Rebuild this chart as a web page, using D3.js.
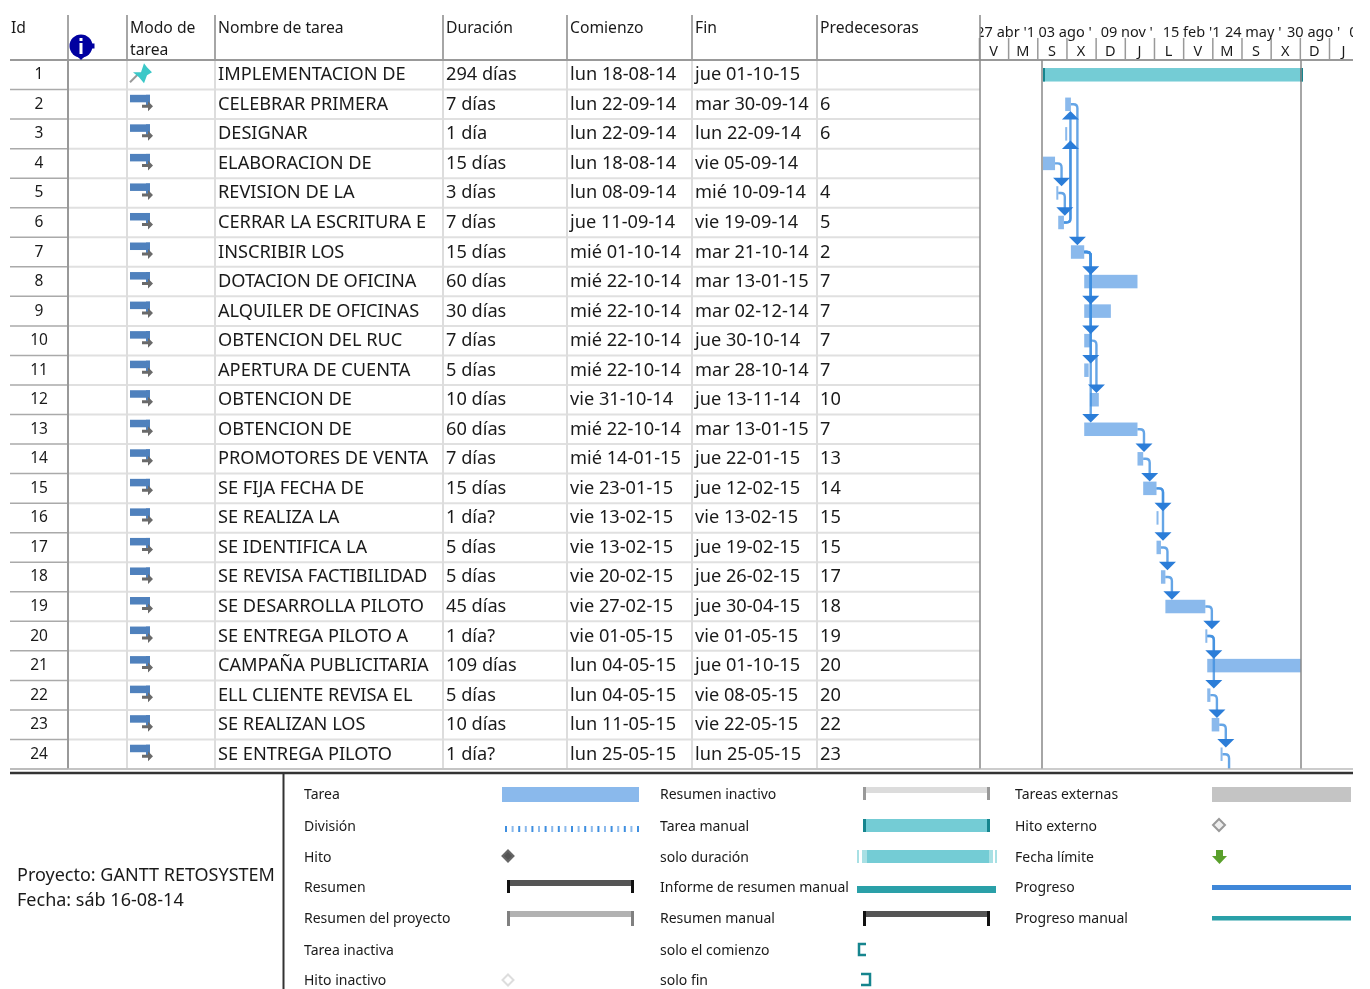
<!DOCTYPE html>
<meta charset="utf-8">
<style>
    html, body { margin: 0; background: #fff; }
    svg { display: block; filter: blur(0.35px); }
    text { font-family: "Noto Sans", sans-serif; fill: #1a1a1a; }
    .cell { font-size: 18.2px; }
    .head { font-size: 15.7px; }
    .legend { font-size: 14px; }
    .time { font-size: 14.5px; }
    .axis path { display: none; }
    .axis line { stroke: #999; stroke-width: 1.5; }
</style>

<body>
    <script src="https://d3js.org/d3.v7.min.js"></script>
    <script>
        var names = ["IMPLEMENTACION DE", "CELEBRAR PRIMERA", "DESIGNAR", "ELABORACION DE", "REVISION DE LA",
            "CERRAR LA ESCRITURA E", "INSCRIBIR LOS", "DOTACION DE OFICINA", "ALQUILER DE OFICINAS", "OBTENCION DEL RUC",
            "APERTURA DE CUENTA", "OBTENCION DE", "OBTENCION DE", "PROMOTORES DE VENTA", "SE FIJA FECHA DE",
            "SE REALIZA LA", "SE IDENTIFICA LA", "SE REVISA FACTIBILIDAD", "SE DESARROLLA PILOTO", "SE ENTREGA PILOTO A",
            "CAMPAÑA PUBLICITARIA", "ELL CLIENTE REVISA EL", "SE REALIZAN LOS", "SE ENTREGA PILOTO"];
        var durations = ["294 días", "7 días", "1 día", "15 días", "3 días", "7 días", "15 días", "60 días", "30 días", "7 días",
            "5 días", "10 días", "60 días", "7 días", "15 días", "1 día?", "5 días", "5 días", "45 días", "1 día?",
            "109 días", "5 días", "10 días", "1 día?"];
        var starts = ["lun 18-08-14", "lun 22-09-14", "lun 22-09-14", "lun 18-08-14", "lun 08-09-14", "jue 11-09-14",
            "mié 01-10-14", "mié 22-10-14", "mié 22-10-14", "mié 22-10-14", "mié 22-10-14", "vie 31-10-14", "mié 22-10-14",
            "mié 14-01-15", "vie 23-01-15", "vie 13-02-15", "vie 13-02-15", "vie 20-02-15", "vie 27-02-15", "vie 01-05-15",
            "lun 04-05-15", "lun 04-05-15", "lun 11-05-15", "lun 25-05-15"];
        var ends = ["jue 01-10-15", "mar 30-09-14", "lun 22-09-14", "vie 05-09-14", "mié 10-09-14", "vie 19-09-14",
            "mar 21-10-14", "mar 13-01-15", "mar 02-12-14", "jue 30-10-14", "mar 28-10-14", "jue 13-11-14", "mar 13-01-15",
            "jue 22-01-15", "jue 12-02-15", "vie 13-02-15", "jue 19-02-15", "jue 26-02-15", "jue 30-04-15", "vie 01-05-15",
            "jue 01-10-15", "vie 08-05-15", "vie 22-05-15", "lun 25-05-15"];
        var preds = ["", 6, 6, "", 4, 5, 2, 7, 7, 7, 7, 10, 7, 13, 14, 15, 15, 17, 18, 19, 20, 20, 22, 23];

        var majorDates = ["27-04-14", "03-08-14", "09-11-14", "15-02-15", "24-05-15", "30-08-15", "06-12-15"];
        // labels are cut short by their cells in the picture
        var majorLabels = ["27 abr '1", "03 ago '", "09 nov '", "15 feb '1", "24 may '", "30 ago '", "0"];
        var minorDates = ["09-05-14", "24-06-14", "09-08-14", "24-09-14", "09-11-14", "25-12-14", "09-02-15", "27-03-15",
            "12-05-15", "27-06-15", "12-08-15", "27-09-15", "12-11-15"];
        var minorLabels = ["V", "M", "S", "X", "D", "J", "L", "V", "M", "S", "X", "D", "J"];
        var projectStart = "18-08-14", projectEnd = "01-10-15";

        var legendCol1 = ["Tarea", "División", "Hito", "Resumen", "Resumen del proyecto", "Tarea inactiva", "Hito inactivo"];
        var legendCol2 = ["Resumen inactivo", "Tarea manual", "solo duración", "Informe de resumen manual", "Resumen manual", "solo el comienzo", "solo fin"];
        var legendCol3 = ["Tareas externas", "Hito externo", "Fecha límite", "Progreso", "Progreso manual"];

        var width = 1370, height = 989;
        var headBottom = 60, tableBottom = 769, chartLeft = 980, chartRight = 1353;
        var columns = [68, 127, 215, 443, 567, 692, 817];

        var parse = d3.utcParse("%d-%m-%y");
        function day(s) { return parse(s.slice(-8)); }
        function dayAfter(s) { return d3.utcDay.offset(day(s), 1); }

        var svg = d3.select("body").append("svg")
            .attr("width", width)
            .attr("height", height);

        var x = d3.scaleUtc()
            .domain([day(projectStart), dayAfter(projectEnd)])
            .range([1043, 1303]);
        var y = d3.scaleBand()
            .domain(d3.range(1, 25))
            .range([headBottom, tableBottom]);
        var rowMid = function (id) { return y(id) + y.bandwidth() / 2; };

        var defs = svg.append("defs");
        defs.append("clipPath").attr("id", "chartClip").append("rect")
            .attr("x", chartLeft).attr("y", headBottom).attr("width", chartRight - chartLeft).attr("height", tableBottom - headBottom);
        defs.append("clipPath").attr("id", "timeClip").append("rect")
            .attr("x", chartLeft).attr("y", 10).attr("width", chartRight - chartLeft).attr("height", 50);

        // table grid
        var ids = y.domain();
        svg.append("g").selectAll("line").data(ids).enter().append("line")
            .attr("x1", 68).attr("x2", chartLeft)
            .attr("y1", function (d) { return y(d) + y.bandwidth(); })
            .attr("y2", function (d) { return y(d) + y.bandwidth(); })
            .attr("stroke", "#e0e0e0").attr("stroke-width", 2);
        svg.append("g").selectAll("line").data(ids).enter().append("line")
            .attr("x1", 10).attr("x2", 68)
            .attr("y1", function (d) { return y(d) + y.bandwidth(); })
            .attr("y2", function (d) { return y(d) + y.bandwidth(); })
            .attr("stroke", "#aaa").attr("stroke-width", 1.5);
        svg.append("g").selectAll("line").data(columns).enter().append("line")
            .attr("x1", function (d) { return d; }).attr("x2", function (d) { return d; })
            .attr("y1", headBottom).attr("y2", tableBottom)
            .attr("stroke", function (d) { return d == 68 ? "#999" : "#ddd"; }).attr("stroke-width", 2);
        svg.append("g").selectAll("line").data(columns).enter().append("line")
            .attr("x1", function (d) { return d; }).attr("x2", function (d) { return d; })
            .attr("y1", 15).attr("y2", headBottom)
            .attr("stroke", "#888").attr("stroke-width", 1.5);

        // time header
        var majorAxis = d3.axisTop(x).tickValues(majorDates.map(parse)).tickSize(20).tickFormat("");
        var minorAxis = d3.axisTop(x).tickValues(minorDates.map(parse)).tickSize(22).tickFormat("");
        var timeHead = svg.append("g");
        timeHead.append("g").attr("class", "axis").attr("clip-path", "url(#timeClip)").attr("transform", "translate(0,38)").call(majorAxis);
        timeHead.append("g").attr("class", "axis").attr("transform", "translate(0,60)").call(minorAxis);

        timeHead.append("g").attr("clip-path", "url(#timeClip)").selectAll("text").data(majorLabels).enter().append("text")
            .attr("class", "time")
            .attr("x", function (d, i) { return x(parse(majorDates[i])) + 5; })
            .attr("y", 37)
            .text(function (d) { return d; });
        timeHead.selectAll("text.minor").data(minorLabels).enter().append("text")
            .attr("class", "time minor")
            .attr("text-anchor", "middle")
            .attr("x", function (d, i) { return x(d3.utcDay.offset(parse(minorDates[i]), 23)); })
            .attr("y", 56)
            .text(function (d) { return d; });

        // header lines
        svg.append("line").attr("x1", 10).attr("x2", chartRight).attr("y1", headBottom).attr("y2", headBottom)
            .attr("stroke", "#999").attr("stroke-width", 2);
        svg.append("line").attr("x1", chartLeft).attr("x2", chartLeft).attr("y1", 15).attr("y2", tableBottom)
            .attr("stroke", "#888").attr("stroke-width", 1.5);

        var headers = [["Id", 11, 33], ["Modo de", 130, 33], ["tarea", 130, 55], ["Nombre de tarea", 218, 33],
            ["Duración", 446, 33], ["Comienzo", 570, 33], ["Fin", 695, 33], ["Predecesoras", 820, 33]];
        svg.append("g").selectAll("text").data(headers).enter().append("text")
            .attr("class", "head")
            .attr("x", function (d) { return d[1]; })
            .attr("y", function (d) { return d[2]; })
            .text(function (d) { return d[0]; });

        // info icon
        var info = svg.append("g").attr("transform", "translate(81,46)");
        info.append("circle").attr("r", 11.5).attr("fill", "#0000a0");
        info.append("rect").attr("x", 11).attr("y", -2.5).attr("width", 2.5).attr("height", 5).attr("fill", "#0000a0");
        info.append("path").attr("d", "M-3,11L3,11L0,14Z").attr("fill", "#0000a0");
        info.append("rect").attr("x", -1.5).attr("y", -3).attr("width", 3).attr("height", 11).attr("fill", "#fff");
        info.append("rect").attr("x", -1.5).attr("y", -8).attr("width", 3).attr("height", 3).attr("fill", "#fff");

        // table cells
        var rows = svg.append("g").selectAll("g").data(ids).enter().append("g")
            .attr("transform", function (d) { return "translate(0," + (rowMid(d) + 5.5) + ")"; });
        rows.append("text").attr("class", "cell").attr("x", 39).attr("text-anchor", "middle").style("font-size", "15.5px")
            .attr("y", -1)
            .text(function (d) { return d; });
        rows.append("text").attr("class", "cell").attr("x", 218).text(function (d) { return names[d - 1]; });
        rows.append("text").attr("class", "cell").attr("x", 446).text(function (d) { return durations[d - 1]; });
        rows.append("text").attr("class", "cell").attr("x", 570).text(function (d) { return starts[d - 1]; });
        rows.append("text").attr("class", "cell").attr("x", 695).text(function (d) { return ends[d - 1]; });
        rows.append("text").attr("class", "cell").attr("x", 820).text(function (d) { return preds[d - 1]; });

        // mode icons
        var icons = svg.append("g").selectAll("g").data(ids).enter().append("g")
            .attr("transform", function (d) { return "translate(130," + (rowMid(d) - 9.5) + ")"; });
        icons.filter(function (d) { return d > 1; }).each(function () {
            var g = d3.select(this);
            g.append("rect").attr("x", 0).attr("y", 0).attr("width", 20).attr("height", 7.5).attr("fill", "#4f81bd");
            g.append("rect").attr("x", 16).attr("y", 0).attr("width", 4).attr("height", 10.5).attr("fill", "#4f81bd");
            g.append("path").attr("d", "M12,10L18,10L18,6.5L23,11.5L18,16.5L18,13L12,13Z").attr("fill", "#6a6a6a");
        });
        icons.filter(function (d) { return d == 1; }).each(function () {
            var g = d3.select(this);
            g.append("path").attr("d", "M0,17L8,9").attr("stroke", "#999").attr("stroke-width", 2);
            g.append("path").attr("d", "M3,7L11,7L14,-2L17,2L22,7L17,10L14,18L9,12Z").attr("fill", "#3cc8c8");
        });

        // bars
        var barH = 13.5;
        var chart = svg.append("g").attr("clip-path", "url(#chartClip)");
        var limitX = x(dayAfter(projectEnd)) - 2;
        var taskIds = ids.slice(1);
        chart.append("g").selectAll("rect").data(taskIds).enter().append("rect")
            .attr("x", function (d) { return x(day(starts[d - 1])); })
            .attr("y", function (d) { return rowMid(d) - barH / 2; })
            .attr("width", function (d) { return Math.max(2, Math.min(limitX, x(dayAfter(ends[d - 1]))) - x(day(starts[d - 1]))); })
            .attr("height", barH)
            .attr("fill", "#8ab9ec");

        // project limits
        [x(day(projectStart)) - 1, limitX].forEach(function (lx) {
            svg.append("line").attr("x1", lx).attr("x2", lx).attr("y1", headBottom).attr("y2", tableBottom)
                .attr("stroke", "#888").attr("stroke-width", 1.5);
        });

        var x1 = x(day(starts[0])), x2 = x(dayAfter(ends[0]));
        chart.append("rect").attr("x", x1).attr("y", rowMid(1) - barH / 2).attr("width", x2 - x1).attr("height", barH).attr("fill", "#74ccd5");
        chart.append("rect").attr("x", x1).attr("y", rowMid(1) - barH / 2).attr("width", 2).attr("height", barH).attr("fill", "#16858e");
        chart.append("rect").attr("x", x2 - 3).attr("y", rowMid(1) - barH / 2).attr("width", 3).attr("height", barH).attr("fill", "#16858e");

        // links: out of the end of the predecessor, hook down or up to the successor
        var links = [];
        preds.forEach(function (p, i) { if (p !== "") links.push({ from: p, to: i + 1 }); });
        links.push({ from: 24, to: 25 }); // successor is below the visible rows

        function hookX(d) {
            return Math.max(x(dayAfter(ends[d.from - 1])), x(day(starts[d.from - 1])) + 2) + 6.5;
        }
        function linkPath(d) {
            var ex = hookX(d), sx = ex - 6.5, sy = rowMid(d.from);
            var dir = d.to > d.from ? 1 : -1;
            var toMid = d.to <= 24 ? rowMid(d.to) : rowMid(24) + y.bandwidth();
            var ey = toMid - dir * (barH / 2 + 7);
            var q = d3.path();
            q.moveTo(sx, sy);
            q.lineTo(ex - 4, sy);
            q.quadraticCurveTo(ex, sy, ex, sy + dir * 4);
            q.lineTo(ex, ey);
            return q.toString();
        }
        chart.append("g").selectAll("path").data(links).enter().append("path")
            .attr("d", linkPath)
            .attr("fill", "none")
            .attr("stroke", "#3f8fe0")
            .attr("stroke-opacity", 0.8)
            .attr("stroke-width", 2.4);
        chart.append("g").selectAll("path").data(links.filter(function (d) { return d.to <= 24; })).enter().append("path")
            .attr("d", function (d) {
                var ex = hookX(d), dir = d.to > d.from ? 1 : -1;
                var tip = rowMid(d.to) - dir * (barH / 2);
                var base = tip - dir * 8.5;
                return "M" + (ex - 8.5) + "," + base + "L" + (ex + 8.5) + "," + base + "L" + ex + "," + tip + "Z";
            })
            .attr("fill", "#2b7dd8");

        // bottom frame
        svg.append("line").attr("x1", 10).attr("x2", chartRight).attr("y1", 769).attr("y2", 769).attr("stroke", "#bbb").attr("stroke-width", 1.5);
        svg.append("line").attr("x1", 10).attr("x2", chartRight).attr("y1", 773).attr("y2", 773).attr("stroke", "#333").attr("stroke-width", 2.5);
        svg.append("line").attr("x1", 283.5).attr("x2", 283.5).attr("y1", 774).attr("y2", height).attr("stroke", "#333").attr("stroke-width", 2);

        svg.append("text").attr("x", 17).attr("y", 881).style("font-size", "18px").text("Proyecto: GANTT RETOSYSTEM");
        svg.append("text").attr("x", 17).attr("y", 906).style("font-size", "18px").text("Fecha: sáb 16-08-14");

        // legend
        var legendY = [794, 826, 857, 887, 918, 950, 980];
        [[legendCol1, 304], [legendCol2, 660], [legendCol3, 1015]].forEach(function (c) {
            svg.append("g").selectAll("text").data(c[0]).enter().append("text")
                .attr("class", "legend")
                .attr("x", c[1])
                .attr("y", function (d, i) { return legendY[i] + 5; })
                .text(function (d) { return d; });
        });

        var lg = svg.append("g");
        function box(a, b, w, h, fill) { lg.append("rect").attr("x", a).attr("y", b).attr("width", w).attr("height", h).attr("fill", fill); }
        function diamond(cx, cy, r, fill, stroke) {
            lg.append("path").attr("d", "M" + cx + "," + (cy - r) + "L" + (cx + r) + "," + cy + "L" + cx + "," + (cy + r) + "L" + (cx - r) + "," + cy + "Z")
                .attr("fill", fill).attr("stroke", stroke).attr("stroke-width", 2);
        }
        function capped(a, b, top, barHeight, capHeight, fill, cap) {
            box(a, top, b - a, barHeight, fill);
            box(a, top, 3, capHeight, cap);
            box(b - 3, top, 3, capHeight, cap);
        }

        box(502, 787, 137, 15, "#8ab9ec");
        d3.range(21).forEach(function (i) { box(505 + i * 6.6, 826, 2, 6, i % 2 ? "#8ab9ec" : "#3f8fe0"); });
        diamond(508, 856, 5.5, "#555", "#666");
        capped(507, 634, 880, 6, 13, "#555", "#111");
        capped(507, 634, 911, 6, 15, "#b2b2b2", "#808080");
        diamond(508, 980, 5.5, "#fff", "#ddd");

        capped(863, 990, 787, 6, 13, "#dcdcdc", "#999");
        capped(863, 990, 819, 13, 13, "#74ccd5", "#16858e");
        box(857, 850, 2, 13, "#a8e0e4");
        box(862, 850, 5, 13, "#a8e0e4");
        box(867, 850, 122, 13, "#74ccd5");
        box(989, 850, 4, 13, "#a8e0e4");
        box(995, 850, 2, 13, "#a8e0e4");
        box(857, 886, 139, 7, "#2aa0a8");
        capped(863, 990, 911, 6, 15, "#555", "#111");
        lg.append("path").attr("d", "M866,944L859,944L859,955L866,955").attr("fill", "none").attr("stroke", "#16858e").attr("stroke-width", 2.5);
        lg.append("path").attr("d", "M861,974L870,974L870,985L861,985").attr("fill", "none").attr("stroke", "#16858e").attr("stroke-width", 2.5);

        box(1212, 787, 139, 15, "#c4c4c4");
        diamond(1219, 825, 6, "#eee", "#999");
        lg.append("path").attr("d", "M1216,850L1223,850L1223,856L1227,856L1219.5,864L1212,856L1216,856Z").attr("fill", "#5aa02c");
        box(1212, 885, 139, 5, "#3f87d8");
        box(1212, 916, 139, 4.5, "#2aa0a8");
    </script>
</body>
